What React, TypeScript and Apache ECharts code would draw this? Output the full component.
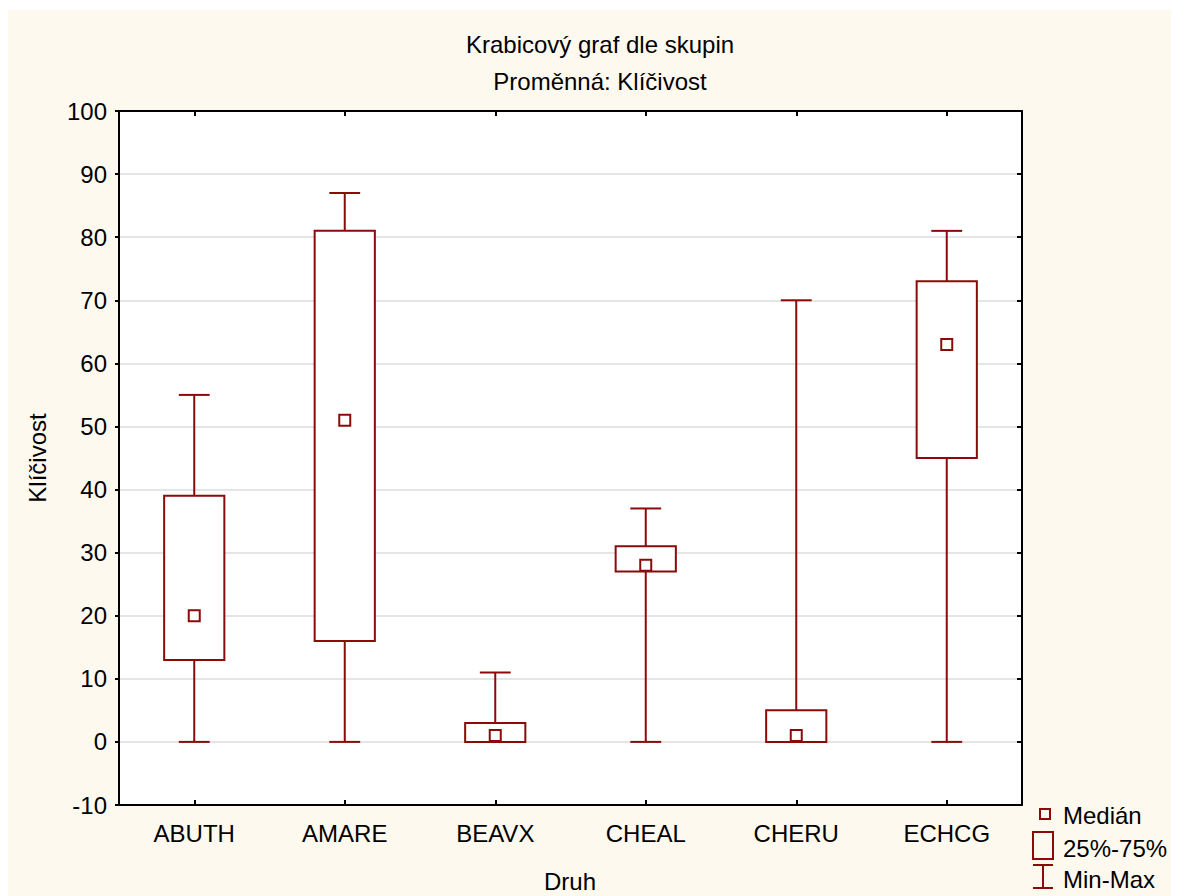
import React, { useEffect, useRef } from "react";
import * as echarts from "echarts";

const categories = ["ABUTH", "AMARE", "BEAVX", "CHEAL", "CHERU", "ECHCG"];
const mins = [0, 0, 0, 0, 0, 0];
const q1s = [13, 16, 0, 27, 0, 45];
const medians = [20, 51, 1, 28, 1, 63];
const q3s = [39, 81, 3, 31, 5, 73];
const maxs = [55, 87, 11, 37, 70, 81];
const yTicks = { min: -10, max: 100, interval: 10 };

const RED = "#8B0A0A";
const FONT = "'Liberation Sans', Arial, sans-serif";
const BG = "#FEF9EF";
const FS = 24;

export default function App() {
  const ref = useRef<HTMLDivElement>(null);
  useEffect(() => {
    if (!ref.current) return;
    const chart = echarts.init(ref.current, null, { renderer: "svg" });
    const data = categories.map((_, i) => [i, mins[i], q1s[i], medians[i], q3s[i], maxs[i]]);
    const W = 1171;
    const legX = 1040 - 8;
    const option: any = {
      animation: false,
      backgroundColor: BG,
      textStyle: { fontFamily: FONT },
      grid: {
        left: 111,
        top: 103,
        right: 157,
        bottom: 91,
        show: true,
        backgroundColor: "#ffffff",
        borderWidth: 0,
      },
      xAxis: [
        {
          type: "category",
          data: categories,
          position: "bottom",
          axisLine: { show: true, onZero: false, lineStyle: { color: "#000", width: 2 } },
          axisTick: { show: true, inside: true, alignWithLabel: true, length: 5, lineStyle: { color: "#000", width: 2 } },
          axisLabel: { color: "#000", fontSize: FS, fontFamily: FONT, margin: 16 },
          splitLine: { show: false },
        },
        {
          type: "category",
          data: categories,
          position: "top",
          axisLine: { show: true, onZero: false, lineStyle: { color: "#000", width: 2 } },
          axisTick: { show: true, inside: true, alignWithLabel: true, length: 5, lineStyle: { color: "#000", width: 2 } },
          axisLabel: { show: false },
          splitLine: { show: false },
        },
      ],
      yAxis: [
        {
          type: "value",
          position: "left",
          min: yTicks.min,
          max: yTicks.max,
          interval: yTicks.interval,
          axisLine: { show: true, onZero: false, lineStyle: { color: "#000", width: 2 } },
          axisTick: { show: true, inside: false, length: 4, lineStyle: { color: "#000", width: 2 } },
          axisLabel: { color: "#000", fontSize: FS, fontFamily: FONT, margin: 12 },
          splitLine: { show: true, lineStyle: { color: "#dcdcdc", width: 1.5 } },
        },
        {
          type: "value",
          position: "right",
          min: yTicks.min,
          max: yTicks.max,
          interval: yTicks.interval,
          axisLine: { show: true, onZero: false, lineStyle: { color: "#000", width: 2 } },
          axisTick: { show: true, inside: true, length: 5, lineStyle: { color: "#000", width: 2 } },
          axisLabel: { show: false },
          splitLine: { show: false },
        },
      ],
      series: [
        {
          type: "custom",
          xAxisIndex: 0,
          yAxisIndex: 0,
          data,
          encode: { x: 0, y: [1, 2, 3, 4, 5] },
          renderItem: (params: any, api: any) => {
            const xi = api.value(0);
            const pMin = api.coord([xi, api.value(1)]);
            const pQ1 = api.coord([xi, api.value(2)]);
            const pMed = api.coord([xi, api.value(3)]);
            const pQ3 = api.coord([xi, api.value(4)]);
            const pMax = api.coord([xi, api.value(5)]);
            const band = api.size([1, 0])[0];
            const boxW = band * 0.4;
            const capW = band * 0.205;
            const med = 11;
            const cx = pMin[0];
            const ls = { stroke: RED, lineWidth: 2, fill: null };
            return {
              type: "group",
              children: [
                { type: "line", shape: { x1: cx, y1: pMin[1], x2: cx, y2: pQ1[1] }, style: ls },
                { type: "line", shape: { x1: cx, y1: pQ3[1], x2: cx, y2: pMax[1] }, style: ls },
                { type: "line", shape: { x1: cx - capW / 2, y1: pMin[1], x2: cx + capW / 2, y2: pMin[1] }, style: ls },
                { type: "line", shape: { x1: cx - capW / 2, y1: pMax[1], x2: cx + capW / 2, y2: pMax[1] }, style: ls },
                {
                  type: "rect",
                  shape: { x: cx - boxW / 2, y: pQ3[1], width: boxW, height: pQ1[1] - pQ3[1] },
                  style: { stroke: RED, lineWidth: 2, fill: "#ffffff" },
                },
                {
                  type: "rect",
                  shape: { x: cx - med / 2, y: pMed[1] - med / 2, width: med, height: med },
                  style: { stroke: RED, lineWidth: 2, fill: "#ffffff" },
                },
              ],
            };
          },
        },
      ],
      graphic: [
        { type: "rect", left: 0, top: 0, shape: { x: 0, y: 0, width: W, height: 2 }, style: { fill: "#ffffff" }, z: -1 },
        {
          type: "text",
          x: 592,
          y: 36,
          style: { text: "Krabicový graf dle skupin", fill: "#000", font: `${FS}px ${FONT}`, textAlign: "center", textVerticalAlign: "middle" },
        },
        {
          type: "text",
          x: 592,
          y: 73,
          style: { text: "Proměnná: Klíčivost", fill: "#000", font: `${FS}px ${FONT}`, textAlign: "center", textVerticalAlign: "middle" },
        },
        {
          type: "text",
          x: 29,
          y: 450,
          rotation: Math.PI / 2,
          style: { text: "Klíčivost", fill: "#000", font: `${FS}px ${FONT}`, textAlign: "center", textVerticalAlign: "middle" },
        },
        {
          type: "text",
          x: 562,
          y: 873,
          style: { text: "Druh", fill: "#000", font: `${FS}px ${FONT}`, textAlign: "center", textVerticalAlign: "middle" },
        },
        // legend
        { type: "rect", shape: { x: legX, y: 809 - 8, width: 10, height: 10 }, style: { stroke: RED, lineWidth: 2, fill: "none" } },
        { type: "text", x: 1063 - 8, y: 815 - 8, style: { text: "Medián", fill: "#000", font: `${FS}px ${FONT}`, textVerticalAlign: "middle" } },
        { type: "rect", shape: { x: 1033 - 8, y: 832 - 8, width: 20, height: 27 }, style: { stroke: RED, lineWidth: 2, fill: "none" } },
        { type: "text", x: 1063 - 8, y: 848 - 8, style: { text: "25%-75%", fill: "#000", font: `${FS}px ${FONT}`, textVerticalAlign: "middle" } },
        { type: "line", shape: { x1: 1033 - 8, y1: 865 - 8, x2: 1053 - 8, y2: 865 - 8 }, style: { stroke: RED, lineWidth: 2 } },
        { type: "line", shape: { x1: 1043 - 8, y1: 865 - 8, x2: 1043 - 8, y2: 888 - 8 }, style: { stroke: RED, lineWidth: 2 } },
        { type: "line", shape: { x1: 1033 - 8, y1: 888 - 8, x2: 1053 - 8, y2: 888 - 8 }, style: { stroke: RED, lineWidth: 2 } },
        { type: "text", x: 1063 - 8, y: 879 - 8, style: { text: "Min-Max", fill: "#000", font: `${FS}px ${FONT}`, textVerticalAlign: "middle" } },
      ],
    };
    chart.setOption(option);
    return () => chart.dispose();
  }, []);
  return <div ref={ref} style={{ width: 1171, height: 888 }} />;
}
